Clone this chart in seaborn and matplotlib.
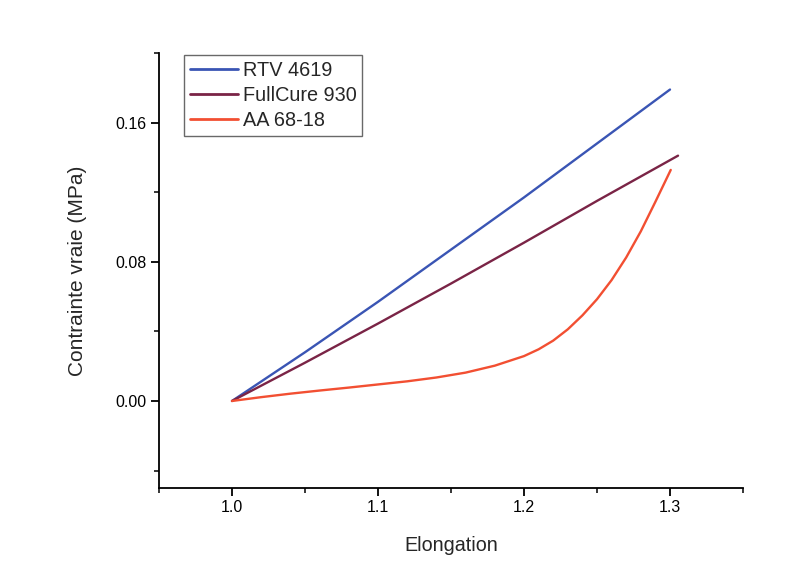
import numpy as np
import pandas as pd
import seaborn as sns
import matplotlib.pyplot as plt
from matplotlib.ticker import MultipleLocator

# data
rtv_x = [1.0, 1.05, 1.1, 1.15, 1.2, 1.25, 1.3]
rtv_y = [0.0, 0.028, 0.057, 0.087, 0.117, 0.148, 0.179]

fullcure_x = [1.0, 1.05, 1.1, 1.15, 1.2, 1.25, 1.3055]
fullcure_y = [0.0, 0.022, 0.0445, 0.0675, 0.091, 0.115, 0.141]

aa_x = [1.0, 1.02, 1.04, 1.06, 1.08, 1.1, 1.12, 1.14, 1.16, 1.18, 1.2, 1.21, 1.22,
        1.23, 1.24, 1.25, 1.26, 1.27, 1.28, 1.29, 1.3005]
aa_y = [0.0, 0.0022, 0.0042, 0.006, 0.0077, 0.0095, 0.0113, 0.0135, 0.0163, 0.0203,
        0.0258, 0.0297, 0.0347, 0.0412, 0.0492, 0.0585, 0.0695, 0.0825, 0.0975, 0.1145,
        0.1328]

labels = ["RTV 4619", "FullCure 930", "AA 68-18"]
colors = ["#3a55b4", "#7a2446", "#f24f32"]

df = pd.concat([
    pd.DataFrame({"Elongation": rtv_x, "Contrainte": rtv_y, "Materiau": labels[0]}),
    pd.DataFrame({"Elongation": fullcure_x, "Contrainte": fullcure_y, "Materiau": labels[1]}),
    pd.DataFrame({"Elongation": aa_x, "Contrainte": aa_y, "Materiau": labels[2]}),
])

sns.set_style("ticks")
plt.rcParams["font.family"] = ["Liberation Sans", "DejaVu Sans"]

fig = plt.figure(figsize=(7.86, 5.87), dpi=100)
ax = fig.add_axes([0.2023, 0.1687, 0.743, 0.741])

sns.lineplot(data=df, x="Elongation", y="Contrainte", hue="Materiau",
             palette=dict(zip(labels, colors)), estimator=None, sort=False,
             linewidth=1.7, ax=ax)

ax.set_xlim(0.95, 1.35)
ax.set_ylim(-0.05, 0.2)
ax.xaxis.set_major_locator(MultipleLocator(0.1))
ax.xaxis.set_minor_locator(MultipleLocator(0.05))
ax.yaxis.set_major_locator(MultipleLocator(0.08))
ax.yaxis.set_minor_locator(MultipleLocator(0.04))
ax.xaxis.set_major_formatter(plt.FuncFormatter(lambda v, p: f"{v:.1f}"))
ax.yaxis.set_major_formatter(plt.FuncFormatter(lambda v, p: f"{v:.2f}"))
ax.tick_params(which="major", length=6, width=1.3, labelsize=11.5, pad=3, colors="black")
ax.tick_params(which="minor", length=3.5, width=1.3)

for side in ["top", "right"]:
    ax.spines[side].set_visible(False)
for side in ["left", "bottom"]:
    ax.spines[side].set_linewidth(1.3)
    ax.spines[side].set_color("black")

ax.set_xlabel("Elongation", fontsize=14.2, labelpad=15)
ax.set_ylabel("Contrainte vraie (MPa)", fontsize=15, labelpad=20)

leg = ax.legend(loc="upper left", bbox_to_anchor=(0.043, 0.995), fontsize=14.3,
                frameon=True, fancybox=False, handlelength=2.4, handletextpad=0.25,
                labelspacing=0.3, borderpad=0.3, borderaxespad=0)
leg.get_frame().set_edgecolor("#444444")
leg.get_frame().set_linewidth(1.0)
for line in leg.get_lines():
    line.set_linewidth(2.0)

plt.savefig("out.png", dpi=100)
plt.close()
